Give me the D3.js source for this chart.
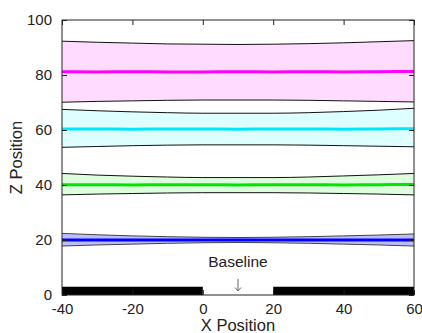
<!DOCTYPE html>
<html>
<head>
<meta charset="utf-8">
<script src="https://cdn.jsdelivr.net/npm/d3@7"></script>
<style>
  body { margin: 0; background: #fff; }
  svg { display: block; }
  text { font-family: "Liberation Sans", Arial, Helvetica, sans-serif; fill: #222; }
</style>
</head>
<body>
<svg></svg>
<script>
// Size of the picture and the plot box
let width = 422,
    height = 333;
let margin = {top: 20, right: 8, bottom: 38, left: 62};

// Sample positions along x
let xPos = [-40, -30, -20, -10, 0, 10, 20, 30, 40, 50, 60];

// Each band: centre line, upper and lower envelope
let magentaMid = [81.2, 81.1, 81.2, 81.1, 81.1, 81.2, 81.1, 81.2, 81.1, 81.2, 81.3];
let magentaHi  = [92.3, 91.9, 91.6, 91.3, 91.2, 91.1, 91.2, 91.4, 91.7, 92.1, 92.5];
let magentaLo  = [70.1, 70.4, 70.6, 70.8, 70.9, 70.9, 70.9, 70.8, 70.6, 70.4, 70.2];

let cyanMid = [60.4, 60.4, 60.3, 60.4, 60.4, 60.3, 60.4, 60.4, 60.3, 60.4, 60.5];
let cyanHi  = [67.5, 67.0, 66.6, 66.3, 66.1, 66.1, 66.1, 66.3, 66.7, 67.2, 67.9];
let cyanLo  = [53.7, 54.0, 54.3, 54.5, 54.6, 54.6, 54.6, 54.5, 54.3, 54.1, 53.9];

let greenMid = [40.1, 40.1, 40.0, 40.1, 40.1, 40.0, 40.1, 40.1, 40.0, 40.1, 40.2];
let greenHi  = [44.2, 43.6, 43.2, 42.9, 42.7, 42.7, 42.7, 42.9, 43.3, 43.7, 44.2];
let greenLo  = [36.4, 36.7, 36.9, 37.1, 37.2, 37.2, 37.2, 37.1, 36.9, 36.7, 36.4];

let blueMid = [20.0, 20.0, 20.0, 20.0, 20.0, 20.0, 20.0, 20.0, 20.0, 20.0, 20.0];
let blueHi  = [22.4, 21.9, 21.5, 21.2, 21.0, 20.9, 21.0, 21.2, 21.5, 21.8, 22.2];
let blueLo  = [17.8, 18.2, 18.5, 18.8, 19.0, 19.1, 19.0, 18.8, 18.5, 18.2, 17.8];

// Electrode blocks at the bottom, with the gap for the baseline
let blocks = [[-40, 0], [20, 60]];
let blockHeight = 3;
let baselineX = 10;

let xTicks = [-40, -20, 0, 20, 40, 60];
let yTicks = [0, 20, 40, 60, 80, 100];

let bands = [
    {mid: magentaMid, hi: magentaHi, lo: magentaLo, line: "#ff00ff", fill: "#ffdbff", edge: "#111"},
    {mid: cyanMid, hi: cyanHi, lo: cyanLo, line: "#00e6ff", fill: "#ddffff", edge: "#111"},
    {mid: greenMid, hi: greenHi, lo: greenLo, line: "#00e600", fill: "#ddffdd", edge: "#111"},
    {mid: blueMid, hi: blueHi, lo: blueLo, line: "#0000ff", fill: "#bcbcff", edge: "#444"}
];

let svg = d3.select("svg")
    .attr("width", width)
    .attr("height", height);

let x = d3.scaleLinear()
    .domain([-40, 60])
    .range([margin.left, width - margin.right]);

let y = d3.scaleLinear()
    .domain([0, 100])
    .range([height - margin.bottom, margin.top]);

// Area and line generators
let area = d3.area()
    .x((d, i) => x(xPos[i]))
    .y0(d => y(d[0]))
    .y1(d => y(d[1]))
    .curve(d3.curveMonotoneX);

let line = d3.line()
    .x((d, i) => x(xPos[i]))
    .y(d => y(d))
    .curve(d3.curveMonotoneX);

let plot = svg.append("g");

for (let b of bands) {
    let pairs = b.lo.map((v, i) => [v, b.hi[i]]);
    plot.append("path")
        .attr("d", area(pairs))
        .style("fill", b.fill)
        .style("stroke", "none");
    plot.append("path")
        .attr("d", line(b.hi))
        .style("fill", "none")
        .style("stroke", b.edge)
        .style("stroke-width", 1);
    plot.append("path")
        .attr("d", line(b.lo))
        .style("fill", "none")
        .style("stroke", b.edge)
        .style("stroke-width", 1);
    plot.append("path")
        .attr("d", line(b.mid))
        .style("fill", "none")
        .style("stroke", b.line)
        .style("stroke-width", 3);
}

// Black blocks
plot.selectAll("rect.block")
    .data(blocks)
    .enter()
    .append("rect")
    .attr("class", "block")
    .attr("x", d => x(d[0]))
    .attr("width", d => x(d[1]) - x(d[0]))
    .attr("y", y(blockHeight))
    .attr("height", y(0) - y(blockHeight))
    .style("fill", "#000");

// Baseline label and a thin arrow pointing down at the gap
svg.append("text")
    .attr("x", x(baselineX))
    .attr("y", 267)
    .attr("text-anchor", "middle")
    .style("font-size", "15.5px")
    .text("Baseline");

let arrow = svg.append("g")
    .attr("transform", `translate(${x(baselineX)},0)`)
    .style("stroke", "#666")
    .style("stroke-width", 1)
    .style("fill", "none");
arrow.append("line").attr("x1", 0).attr("x2", 0).attr("y1", 279).attr("y2", 291);
arrow.append("path").attr("d", "M-3,287.5L0,291L3,287.5");

// Axes, ticks pointing inward, on all four sides
let fmt = d => String(d);
let axisBottom = d3.axisBottom(x).tickValues(xTicks).tickSizeInner(-5).tickSizeOuter(0).tickPadding(8).tickFormat(fmt);
let axisTop = d3.axisTop(x).tickValues(xTicks).tickSizeInner(-5).tickSizeOuter(0).tickFormat("");
let axisLeft = d3.axisLeft(y).tickValues(yTicks).tickSizeInner(-5).tickSizeOuter(0).tickPadding(10).tickFormat(fmt);
let axisRight = d3.axisRight(y).tickValues(yTicks).tickSizeInner(-5).tickSizeOuter(0).tickFormat("");

function styleAxis(g) {
    g.select(".domain").remove();
    g.selectAll("line").style("stroke", "#222");
    g.selectAll("text")
        .style("font-size", "15px")
        .style("font-family", "\"Liberation Sans\", Arial, sans-serif")
        .style("fill", "#222");
}

svg.append("g")
    .attr("transform", `translate(0,${y(0)})`)
    .call(axisBottom)
    .call(styleAxis);
svg.append("g")
    .attr("transform", `translate(0,${y(100)})`)
    .call(axisTop)
    .call(styleAxis);
svg.append("g")
    .attr("transform", `translate(${x(-40)},0)`)
    .call(axisLeft)
    .call(styleAxis);
svg.append("g")
    .attr("transform", `translate(${x(60)},0)`)
    .call(axisRight)
    .call(styleAxis);

// Box frame
svg.append("rect")
    .attr("x", x(-40))
    .attr("y", y(100))
    .attr("width", x(60) - x(-40))
    .attr("height", y(0) - y(100))
    .style("fill", "none")
    .style("stroke", "#222")
    .style("stroke-width", 1);

// Axis titles
svg.append("text")
    .attr("x", (x(-40) + x(60)) / 2)
    .attr("y", 331)
    .attr("text-anchor", "middle")
    .style("font-size", "16.5px")
    .text("X Position");

svg.append("text")
    .attr("transform", `translate(22,${(y(0) + y(100)) / 2}) rotate(-90)`)
    .attr("text-anchor", "middle")
    .style("font-size", "16.5px")
    .text("Z Position");
</script>
</body>
</html>
